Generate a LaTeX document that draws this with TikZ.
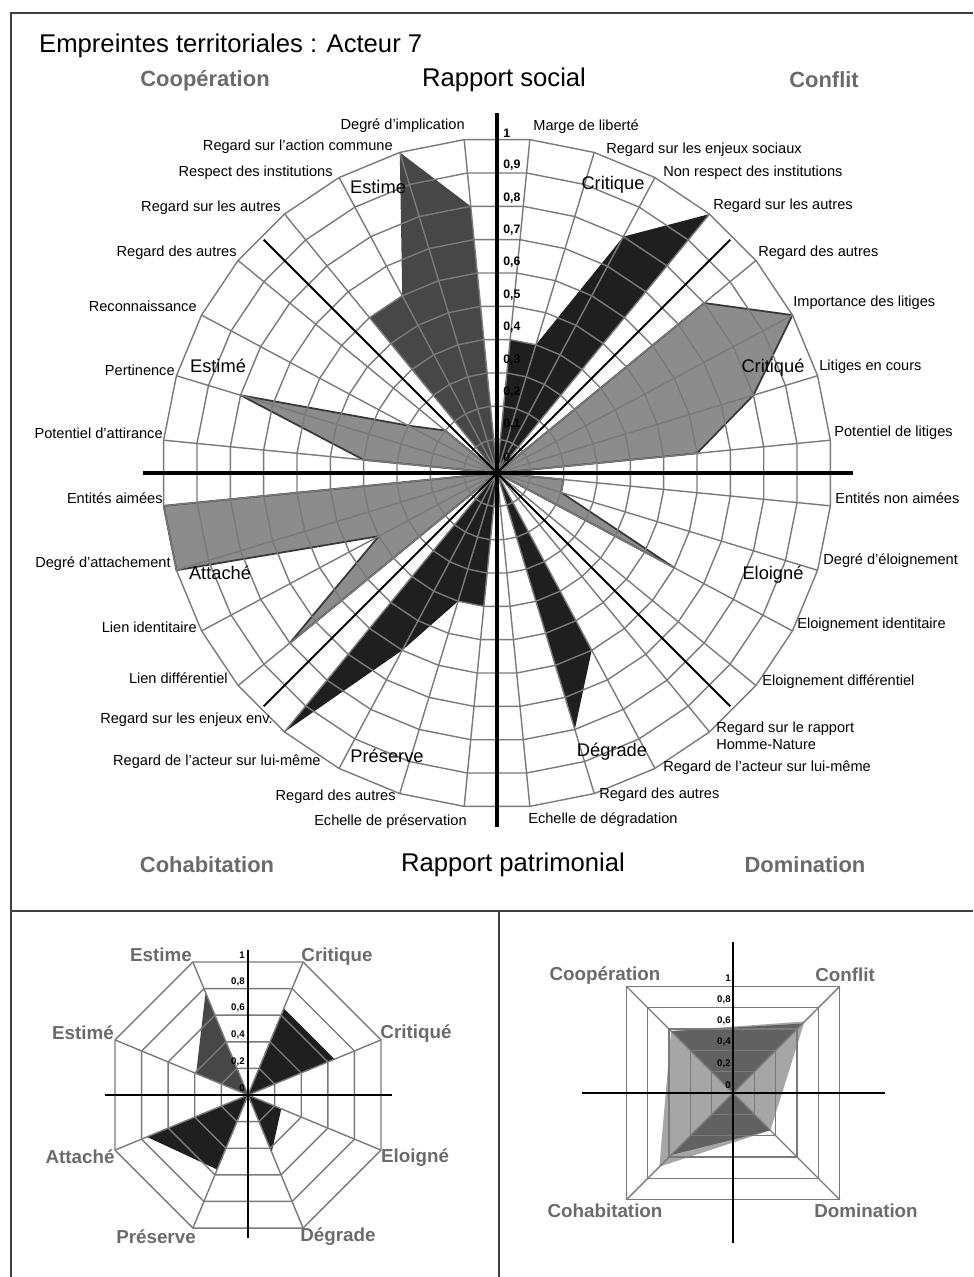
\documentclass[tikz,border=0pt]{standalone}
\usepackage{fontspec}
\setmainfont{Liberation Sans}
\usetikzlibrary{positioning}
\newcommand{\radmain}{335}
\newcommand{\radleft}{144}
\newcommand{\radright}{151}

\begin{document}
\begin{tikzpicture}[
  x=0.02cm, y=0.02cm,
  frameline/.style={draw=black!75, line width=1.4pt},
  gridline/.style={draw=black!52, line width=0.8pt},
  axisline/.style={draw=black, line width=2.2pt},
  smallaxis/.style={draw=black, line width=1.3pt},
  diagline/.style={draw=black, line width=1.1pt},
  darkfill/.style={fill=black!88},
  midfill/.style={fill=black!72},
  grayfill/.style={fill=black!45, draw=black!78, line width=1pt, line join=round},
  lightfill/.style={fill=black!35},
  bowfill/.style={fill=black!62},
  heading/.style={font=\fontsize{14.6}{17}\selectfont},
  corner/.style={font=\fontsize{12.5}{15}\selectfont\bfseries, text=black!58},
  smallcorner/.style={font=\fontsize{10.7}{13}\selectfont\bfseries, text=black!58},
  group/.style={font=\fontsize{10.4}{12}\selectfont},
  rightlabel/.style={font=\fontsize{8.3}{9.5}\selectfont, inner sep=0pt, anchor=west, align=left},
  leftlabel/.style={font=\fontsize{8.3}{9.5}\selectfont, inner sep=0pt, anchor=east, align=right},
  tick/.style={font=\fontsize{7}{8}\selectfont\bfseries, inner sep=0pt, anchor=west},
  smalltick/.style={font=\fontsize{5.5}{6}\selectfont\bfseries, inner sep=0pt, anchor=east}
]
\useasboundingbox (0,-1277) rectangle (973,0);

% Frame
\draw[frameline] (973,-13) -- (11,-13) -- (11,-1277);
\draw[frameline] (11,-911) -- (973,-911);
\draw[frameline] (499,-911) -- (499,-1277);

% Headings
\node[heading, anchor=west] (title) at (33,-46) {Empreintes territoriales : Acteur 7};
\node[heading] (social) at (504,-80) {Rapport social};
\node[heading] (patri) at (513,-865) {Rapport patrimonial};
\node[corner] (coop) at (205,-81) {Coopération};
\node[corner] (confl) at (824,-80) {Conflit};
\node[corner] (cohab) at (207,-865) {Cohabitation};
\node[corner] (domin) at (805,-865) {Domination};

% Main radar: 32 spokes
\begin{scope}[shift={(497,-473)}]
  \fill[darkfill] (0,0) \foreach \k/\v in {1/0.4,2/0.4,3/0.8,4/1} {-- ({84.375-11.25*(\k-1)}:{\v*\radmain})} -- cycle;
  \filldraw[grayfill] (0,0) \foreach \k/\v in {5/0.8,6/1,7/0.8,8/0.6} {-- ({84.375-11.25*(\k-1)}:{\v*\radmain})} -- cycle;
  \filldraw[grayfill] (0,0) \foreach \k/\v in {9/0.2,10/0.2,11/0.6,12/0} {-- ({84.375-11.25*(\k-1)}:{\v*\radmain})} -- cycle;
  \fill[darkfill] (0,0) \foreach \k/\v in {13/0,14/0.6,15/0.8,16/0} {-- ({84.375-11.25*(\k-1)}:{\v*\radmain})} -- cycle;
  \fill[darkfill] (0,0) \foreach \k/\v in {17/0.4,18/0.4,19/0.6,20/1} {-- ({84.375-11.25*(\k-1)}:{\v*\radmain})} -- cycle;
  \filldraw[grayfill] (0,0) \foreach \k/\v in {21/0.8,22/0.4,23/1,24/1} {-- ({84.375-11.25*(\k-1)}:{\v*\radmain})} -- cycle;
  \filldraw[grayfill] (0,0) \foreach \k/\v in {25/0.4,26/0.8,27/0.3,28/0.2} {-- ({84.375-11.25*(\k-1)}:{\v*\radmain})} -- cycle;
  \fill[midfill] (0,0) \foreach \k/\v in {29/0.6,30/0.6,31/1,32/0.8} {-- ({84.375-11.25*(\k-1)}:{\v*\radmain})} -- cycle;

  % grid
  \foreach \r in {1,...,10}
    \draw[gridline] (84.375:{\r*\radmain/10}) \foreach \k in {1,...,31} {-- ({84.375-11.25*\k}:{\r*\radmain/10})} -- cycle;
  \foreach \k in {0,...,31}
    \draw[gridline] (0,0) -- ({84.375-11.25*\k}:\radmain);

  % axes
  \draw[axisline] (-354,0) -- (356,0);
  \draw[axisline] (0,-354) -- (0,360);
  \draw[diagline] (45:330) -- (225:330);
  \draw[diagline] (135:330) -- (-45:330);

  % scale
  \node[tick] (tk0) at (6,16) {0};
  \foreach \v in {1,...,9}
    \node[tick] (tk\v) at (6,{16+32.4*\v}) {0,\v};
  \node[tick] (tk10) at (6,340) {1};
\end{scope}

% Spoke labels, right half
\foreach \x/\y/\txt [count=\i] in {
  533/127/{Marge de liberté}, 606/150/{Regard sur les enjeux sociaux},
  663/173/{Non respect des institutions}, 713/206/{Regard sur les autres},
  758/253/{Regard des autres}, 793/303/{Importance des litiges},
  819/367/{Litiges en cours}, 834/433/{Potentiel de litiges},
  835/498/{Entités non aimées}, 823/561/{Degré d'éloignement},
  797/625/{Eloignement identitaire}, 762/682/{Eloignement différentiel},
  716/736/{Regard sur le rapport\\Homme-Nature}, 663/768/{Regard de l'acteur sur lui-même},
  599/795/{Regard des autres}, 528/820/{Echelle de dégradation}}
  \node[rightlabel] (ra\i) at (\x,-\y) {\txt};

% Spoke labels, left half
\foreach \x/\y/\txt [count=\i] in {
  467/822/{Echelle de préservation}, 396/797/{Regard des autres},
  321/762/{Regard de l'acteur sur lui-même}, 273/720/{Regard sur les enjeux env.},
  228/678/{Lien différentiel}, 197/627/{Lien identitaire},
  171/564/{Degré d'attachement}, 163/498/{Entités aimées},
  163/433/{Potentiel d'attirance}, 175/370/{Pertinence},
  197/306/{Reconnaissance}, 237/253/{Regard des autres},
  281/208/{Regard sur les autres}, 333/173/{Respect des institutions},
  393/147/{Regard sur l'action commune}, 465/126/{Degré d'implication}}
  \node[leftlabel] (la\i) at (\x,-\y) {\txt};

% Group names
\node[group] (estime) at (378,-187) {Estime};
\node[group] (estimee) at (218,-366) {Estimé};
\node[group] (critique) at (613,-185) {Critique};
\node[group] (critiquee) at (773,-368) {Critiqué};
\node[group] (eloigne) at (773,-575) {Eloigné};
\node[group] (degrade) at (612,-752) {Dégrade};
\node[group] (preserve) at (387,-756) {Préserve};
\node[group] (attache) at (220,-573) {Attaché};

% Bottom left: octagon radar
\begin{scope}[shift={(248,-1095)}]
  \fill[midfill] (0,0) -- (112.5:{0.77*\radleft}) -- (157.5:{0.39*\radleft}) -- cycle;
  \fill[darkfill] (0,0) -- (67.5:{0.65*\radleft}) -- (22.5:{0.65*\radleft}) -- cycle;
  \fill[darkfill] (0,0) -- (-22.5:{0.25*\radleft}) -- (-67.5:{0.43*\radleft}) -- cycle;
  \fill[darkfill] (0,0) -- (247.5:{0.56*\radleft}) -- (202.5:{0.76*\radleft}) -- cycle;
  \foreach \r in {1,...,5}
    \draw[gridline] (22.5:{\r*\radleft/5}) \foreach \k in {1,...,7} {-- ({22.5+45*\k}:{\r*\radleft/5})} -- cycle;
  \foreach \k in {0,...,7}
    \draw[gridline] (0,0) -- ({22.5+45*\k}:\radleft);
  \draw[smallaxis] (-143,0) -- (144,0);
  \draw[smallaxis] (0,-143) -- (0,145);
  \foreach \v/\t [count=\i] in {0/0, 0.2/{0,2}, 0.4/{0,4}, 0.6/{0,6}, 0.8/{0,8}, 1/1}
    \node[smalltick] (lt\i) at (-3,{133*\v+7}) {\t};
\end{scope}
\node[smallcorner] (s1estime) at (161,-955) {Estime};
\node[smallcorner] (s1critique) at (337,-957) {Critique};
\node[smallcorner] (s1estimee) at (83,-1033) {Estimé};
\node[smallcorner] (s1critiquee) at (416,-1034) {Critiqué};
\node[smallcorner] (s1attache) at (80,-1157) {Attaché};
\node[smallcorner] (s1eloigne) at (415,-1158) {Eloigné};
\node[smallcorner] (s1preserve) at (156,-1237) {Préserve};
\node[smallcorner] (s1degrade) at (338,-1237) {Dégrade};

% Bottom right: square radar
\begin{scope}[shift={(733,-1093)}]
  \fill[lightfill] (45:{0.67*\radright}) -- (135:{0.58*\radright}) -- (225:{0.69*\radright}) -- (315:{0.35*\radright}) -- cycle;
  \fill[bowfill] (0,0) -- (135:{0.58*\radright}) -- (45:{0.65*\radright}) -- cycle;
  \fill[bowfill] (0,0) -- (315:{0.35*\radright}) -- (225:{0.58*\radright}) -- cycle;
  \foreach \r in {1,...,5}
    \draw[gridline] (45:{\r*\radright/5}) -- (135:{\r*\radright/5}) -- (225:{\r*\radright/5}) -- (315:{\r*\radright/5}) -- cycle;
  \draw[gridline] (45:\radright) -- (225:\radright);
  \draw[gridline] (135:\radright) -- (315:\radright);
  \draw[smallaxis] (-151,0) -- (152,0);
  \draw[smallaxis] (0,-150) -- (0,151);
  \foreach \v/\t [count=\i] in {0/0, 0.2/{0,2}, 0.4/{0,4}, 0.6/{0,6}, 0.8/{0,8}, 1/1}
    \node[smalltick] (rt\i) at (-2,{107*\v+8}) {\t};
\end{scope}
\node[smallcorner] (s2coop) at (605,-976) {Coopération};
\node[smallcorner] (s2confl) at (845,-975) {Conflit};
\node[smallcorner] (s2cohab) at (605,-1211) {Cohabitation};
\node[smallcorner] (s2domin) at (866,-1211) {Domination};

\end{tikzpicture}
\end{document}
